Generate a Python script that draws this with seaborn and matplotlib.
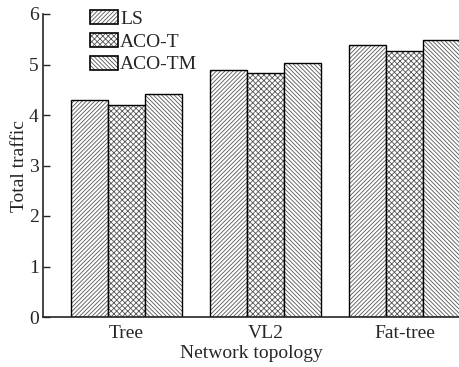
import matplotlib
matplotlib.use("Agg")
import matplotlib.pyplot as plt
from matplotlib.colors import to_rgba
import seaborn as sns
import pandas as pd

categories = ["Tree", "VL2", "Fat-tree"]
methods = ["LS", "ACO-T", "ACO-TM"]
ls_values = [4.30, 4.90, 5.39]
acot_values = [4.20, 4.84, 5.27]
acotm_values = [4.42, 5.02, 5.49]
hatches = ["/" * 8, "x" * 6, "\\" * 8]
yticks = [0, 1, 2, 3, 4, 5, 6]

rows = []
for m, vals in zip(methods, [ls_values, acot_values, acotm_values]):
    for c, v in zip(categories, vals):
        rows.append({"topology": c, "method": m, "traffic": v})
df = pd.DataFrame(rows)

sns.set_style("ticks")
plt.rcParams["font.family"] = ["Liberation Serif", "DejaVu Serif"]
plt.rcParams["hatch.linewidth"] = 0.6

HATCH_COLOR = to_rgba("#555555")


def style_patch(p, h):
    p.set_hatch(h)
    p.set_edgecolor("black")
    p.set_facecolor("white")
    if hasattr(p, "_hatch_color"):
        p._hatch_color = HATCH_COLOR


fig = plt.figure(figsize=(4.6, 3.67), dpi=100)
ax = fig.add_axes([43 / 460, 50 / 367, 1 - 43 / 460, 303 / 367])

sns.barplot(data=df, x="topology", y="traffic", hue="method", order=categories,
            hue_order=methods, palette=["white"] * 3, edgecolor="black",
            linewidth=1.0, width=0.8, ax=ax, errorbar=None, legend=True)

for cont, h in zip(ax.containers, hatches):
    for p in cont:
        style_patch(p, h)

ax.set_ylim(0, 6)
ax.set_xlim(-0.6, 2.4)
ax.set_yticks(yticks)
ax.tick_params(axis="y", labelsize=14, length=5, width=1, direction="in", pad=3)
ax.tick_params(axis="x", labelsize=14, length=0, pad=6)
ax.set_ylabel("Total traffic", fontsize=14, labelpad=0.5)
ax.set_xlabel("Network topology", fontsize=14, labelpad=2)
sns.despine(ax=ax)
for s in ["left", "bottom"]:
    ax.spines[s].set_linewidth(1.2)

leg = ax.legend(loc="upper left", bbox_to_anchor=(47 / 417, 1.013), frameon=False,
                fontsize=14, handlelength=1.45, handleheight=0.75,
                handletextpad=0.1, labelspacing=0.25, borderaxespad=0,
                borderpad=0)
for hnd, h in zip(leg.legend_handles, hatches):
    style_patch(hnd, h)
    hnd.set_linewidth(1.2)

fig.savefig("out.png", dpi=100)
